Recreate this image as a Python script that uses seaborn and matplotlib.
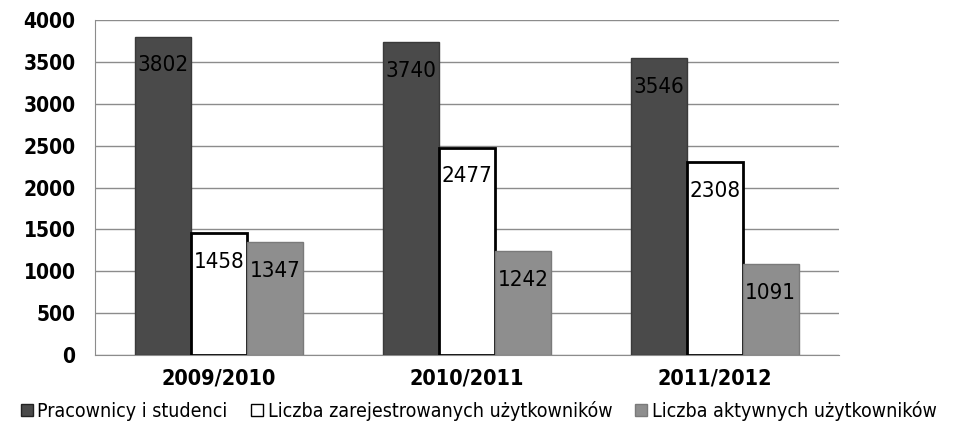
import pandas as pd
import matplotlib
matplotlib.use("Agg")
import matplotlib.pyplot as plt
import seaborn as sns
from matplotlib.lines import Line2D

years = ["2009/2010", "2010/2011", "2011/2012"]
series = ["Pracownicy i studenci", "Liczba zarejestrowanych użytkowników", "Liczba aktywnych użytkowników"]
pracownicy = [3802, 3740, 3546]
zarejestrowani = [1458, 2477, 2308]
aktywni = [1347, 1242, 1091]

colors = ["#4a4a4a", "#ffffff", "#8e8e8e"]
edges = ["#3a3a3a", "#000000", "#7a7a7a"]

df = pd.DataFrame({
    "rok": years * 3,
    "seria": [s for s in series for _ in years],
    "wartosc": pracownicy + zarejestrowani + aktywni,
})

sns.set_style("white")
plt.rcParams["font.family"] = ["DejaVu Sans"]
plt.rcParams["font.stretch"] = "condensed"
plt.rcParams["text.color"] = "black"
plt.rcParams["xtick.color"] = "black"
plt.rcParams["ytick.color"] = "black"

fig = plt.figure(figsize=(9.56, 4.29), dpi=100)
ax = fig.add_axes([95 / 956, 1 - 355 / 429, (839 - 95) / 956, (355 - 20) / 429])

sns.barplot(data=df, x="rok", y="wartosc", hue="seria", hue_order=series,
            palette=colors, width=0.675, saturation=1, ax=ax, legend=False, zorder=3)

for i, s in enumerate(series):
    cont = ax.containers[i]
    for p in cont:
        p.set_edgecolor(edges[i])
        p.set_linewidth(2 if i == 1 else 1)
    ax.bar_label(cont, labels=[str(int(p.get_height())) for p in cont],
                 label_type="edge", padding=-28, fontsize=16, color="black", zorder=5)

ax.set_ylim(0, 4000)
ax.set_xlim(-0.5, 2.5)
ax.set_yticks(range(0, 4001, 500))
ax.yaxis.grid(True, color="#8c8c8c", linewidth=1, zorder=0)
ax.set_axisbelow(True)
ax.set_xlabel("")
ax.set_ylabel("")
for side in ["top", "right"]:
    ax.spines[side].set_visible(False)
ax.spines["left"].set_color("#8c8c8c")
ax.spines["bottom"].set_color("#8c8c8c")

ax.set_xticks([-0.5, 0.5, 1.5, 2.5], minor=False)
ax.set_xticklabels([])
ax.set_xticks([0, 1, 2], minor=True)
ax.set_xticklabels(years, minor=True, fontsize=15.5, fontweight="bold")
ax.tick_params(axis="x", which="major", length=8, color="#8c8c8c", direction="out")
ax.tick_params(axis="x", which="minor", length=0, pad=10)
ax.tick_params(axis="y", length=8, color="#8c8c8c", labelsize=15, pad=6)
for t in ax.get_yticklabels():
    t.set_fontweight("bold")

handles = [Line2D([0], [0], marker="s", linestyle="none", markersize=9,
                  markerfacecolor=colors[i], markeredgecolor=edges[i] if i != 0 else "#222222")
           for i in range(3)]
fig.legend(handles, series, loc="center", bbox_to_anchor=(0.5, 1 - 411 / 429), ncol=3,
           frameon=False, fontsize=14, handletextpad=0.15, columnspacing=1.1, handlelength=0.8)

fig.savefig("out.png", dpi=100)
